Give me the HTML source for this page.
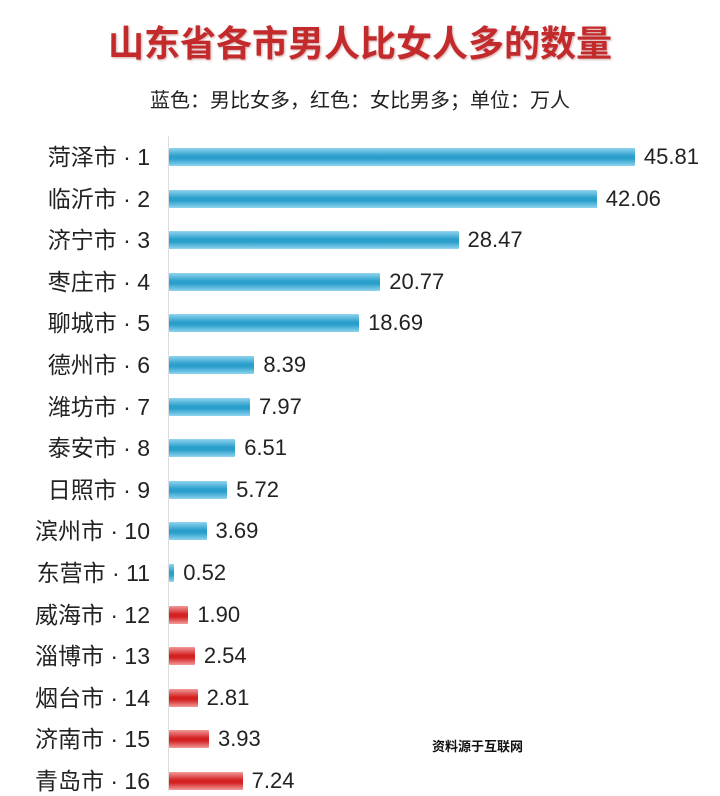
<!DOCTYPE html>
<html><head><meta charset="utf-8"><style>
body{margin:0;width:720px;height:791px;background:#fff;overflow:hidden;position:relative;font-family:"Liberation Sans","Noto Sans CJK SC",sans-serif;}
.t{position:absolute;left:0;width:720px;text-align:center;top:15px;font-size:36px;font-weight:bold;color:#c22a2c;text-shadow:1px 1px 2px rgba(120,0,0,.35);}
.s{position:absolute;left:0;width:720px;text-align:center;top:84px;font-size:20px;color:#222;}
.ax{position:absolute;left:168px;top:136px;width:1px;height:655px;background:#ddd;}
.r{position:absolute;left:0;width:720px;height:30px;}
.l{position:absolute;right:570px;top:0;font-size:23px;color:#222;line-height:30px;white-space:nowrap;}
.b{position:absolute;left:169px;top:6px;height:18px;border-radius:1px;}
.bl{background:linear-gradient(#8fd4ee,#2b9fcc 45%,#2b9fcc 60%,#8fd4ee);}
.rd{background:linear-gradient(#f19a9a,#d42222 45%,#d42222 60%,#f19a9a);}
.v{position:absolute;top:0;font-size:22px;color:#222;line-height:30px;}
.w{position:absolute;left:432px;top:736px;font-size:13px;font-weight:bold;color:#111;}
</style></head><body>
<div class="t">山东省各市男人比女人多的数量</div>
<div class="s">蓝色：男比女多，红色：女比男多；单位：万人</div>
<div class="ax"></div>
<div id="c"></div>
<div class="w">资料源于互联网</div>
<script>
var d=[["菏泽市",45.81,0],["临沂市",42.06,0],["济宁市",28.47,0],["枣庄市",20.77,0],["聊城市",18.69,0],["德州市",8.39,0],["潍坊市",7.97,0],["泰安市",6.51,0],["日照市",5.72,0],["滨州市",3.69,0],["东营市",0.52,0],["威海市",1.90,1],["淄博市",2.54,1],["烟台市",2.81,1],["济南市",3.93,1],["青岛市",7.24,1]];
var h="";
d.forEach(function(e,i){var y=142+i*41.6;var w=Math.max(e[1]*10.17,3);
h+='<div class="r" style="top:'+y+'px"><div class="l">'+e[0]+' · '+(i+1)+'</div><div class="b '+(e[2]?'rd':'bl')+'" style="width:'+w+'px"></div><div class="v" style="left:'+(169+w+9)+'px">'+e[1].toFixed(2)+'</div></div>';});
document.getElementById("c").innerHTML=h;
</script>
</body></html>
